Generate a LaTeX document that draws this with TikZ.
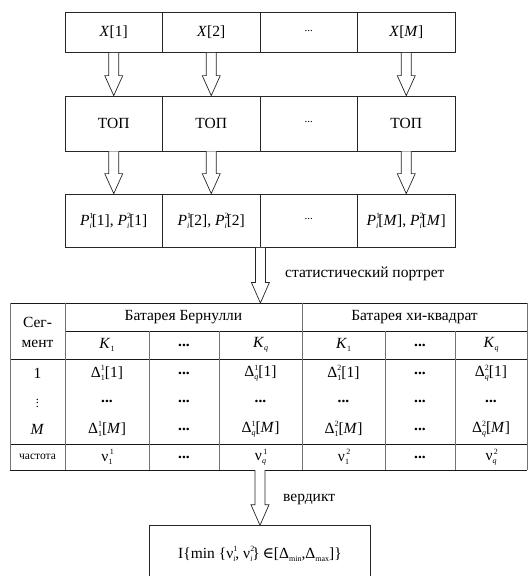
\documentclass[tikz,border=0pt]{standalone}
\usepackage{fontspec}
\setmainfont{Liberation Serif}
\newfontfamily\symfnt{DejaVu Serif}
\usetikzlibrary{calc}
% sub #1, sup #2
\newcommand{\ssb}[2]{{\fontsize{8}{8}\selectfont\makebox[0pt][l]{\raisebox{6.5pt}{#2}}\raisebox{-3pt}{#1}}}
\newcommand{\sbo}[1]{{\fontsize{8}{8}\selectfont\raisebox{-3pt}{#1}}}
\newcommand{\mdots}{\raisebox{3.5pt}{\fontsize{11}{11}\selectfont ...}}
\newcommand{\blkarrow}[3][20]{%
  \draw[blkstyle] let \p1=(#2), \p2=(#3) in
    (\x1-5pt,\y1) -- (\x1-5pt,\y2+#1pt) -- (\x1-9pt,\y2+#1pt) -- (\x1,\y2)
    -- (\x1+9pt,\y2+#1pt) -- (\x1+5pt,\y2+#1pt) -- (\x1+5pt,\y1);}
\tikzset{
  blkstyle/.style={draw=black!85, fill=white, line width=0.7pt, line join=miter},
  cellbox/.style={draw=black!85, line width=0.8pt, minimum width=97.5pt, inner sep=0pt},
  txt/.style={inner sep=0pt, font=\fontsize{15.5}{18}\selectfont},
  hline/.style={draw=black!90, line width=0.8pt},
  vline/.style={draw=black!55, line width=0.9pt},
}
\begin{document}
\begin{tikzpicture}[x=1pt, y=-1pt]
\clip (0,0) rectangle (528,576);
\fill[white] (0,0) rectangle (528,576);
% row 1
\foreach \i/\xc/\t in {1/113.75/{\textit{X}[1]}, 2/211.25/{\textit{X}[2]}, 3/308.75/{\mdots}, 4/406.25/{\textit{X}[\textit{M}]}}{
  \node[cellbox, minimum height=40pt, txt] (x\i) at (\xc,32.5) {\t};
}
\foreach \i/\xc/\t in {1/113.75/{ТОП}, 2/211.25/{ТОП}, 3/308.75/{\mdots}, 4/406.25/{ТОП}}{
  \node[cellbox, minimum height=55pt, txt] (t\i) at (\xc,123.5) {\t};
}
\node[cellbox, minimum height=53.5pt, txt] (p1) at (113.75,220.75) {\textit{P}\ssb{\textit{i}}{1}[1], \textit{P}\ssb{\textit{i}}{2}[1]};
\node[cellbox, minimum height=53.5pt, txt] (p2) at (211.25,220.75) {\textit{P}\ssb{\textit{i}}{1}[2], \textit{P}\ssb{\textit{i}}{2}[2]};
\node[cellbox, minimum height=53.5pt, txt] (p3) at (308.75,220.75) {\mdots};
\node[cellbox, minimum height=53.5pt, txt] (p4) at (406.25,220.75) {\textit{P}\ssb{\textit{i}}{1}[\textit{M}], \textit{P}\ssb{\textit{i}}{2}[\textit{M}]};
% arrows between rows
\blkarrow{x1.south}{t1.north}
\blkarrow{x2.south}{t2.north}
\blkarrow{x4.south}{t4.north}
\blkarrow{t1.south}{p1.north}
\blkarrow{t2.south}{p2.north}
\blkarrow{t4.south}{p4.north}
% table
\coordinate (tabtop) at (260,303);
\coordinate (tabbot) at (260,470);
\draw[hline] (10,303) -- (527,303);
\draw[hline] (65,331) -- (527,331);
\draw[hline] (10,359) -- (527,359);
\draw[hline] (10,444) -- (527,444);
\draw[hline] (10,470) -- (527,470);
\foreach \cx in {10,65,302,527}{ \draw[vline] (\cx,303) -- (\cx,470); }
\foreach \cx in {149,219,385,455}{ \draw[vline] (\cx,331) -- (\cx,470); }
\blkarrow[20.5]{p2.south east}{tabtop}
\node[txt, anchor=west] (lstat) at (285,274) {статистический портрет};
% table texts
\node[txt, align=center, font=\fontsize{15.5}{20}\selectfont] (hseg) at (37.5,332) {Сег-\\мент};
\node[txt] (hber) at (183.5,317) {Батарея Бернулли};
\node[txt] (hchi) at (414.5,317) {Батарея хи-квадрат};
\node[txt] (k11) at (107,345) {\textit{K}\sbo{1}};
\node[txt] (k12) at (184,345) {\textbf{...}};
\node[txt] (k13) at (260.5,345) {\textit{K}\sbo{\textit{q}}};
\node[txt] (k21) at (343.5,345) {\textit{K}\sbo{1}};
\node[txt] (k22) at (420,345) {\textbf{...}};
\node[txt] (k23) at (491,345) {\textit{K}\sbo{\textit{q}}};
% row 1
\node[txt] (r1s) at (37.5,373) {1};
\node[txt] (r1a) at (107,373) {Δ\ssb{1}{1}[1]};
\node[txt] (r1b) at (184,373) {\textbf{...}};
\node[txt] (r1c) at (260.5,373) {Δ\ssb{\textit{q}}{1}[1]};
\node[txt] (r1d) at (343.5,373) {Δ\ssb{1}{2}[1]};
\node[txt] (r1e) at (420,373) {\textbf{...}};
\node[txt] (r1f) at (491,373) {Δ\ssb{\textit{q}}{2}[1]};
% row dots
\node[txt] (r2s) at (37.5,401) {\scalebox{0.8}{$\vdots$}};
\foreach \cx/\nm in {107/a,184/b,260.5/c,343.5/d,420/e,491/f}{
  \node[txt] (r2\nm) at (\cx,401) {\textbf{...}};
}
% row M
\node[txt] (r3s) at (37.5,429) {\textit{M}};
\node[txt] (r3a) at (107,429) {Δ\ssb{1}{1}[\textit{M}]};
\node[txt] (r3b) at (184,429) {\textbf{...}};
\node[txt] (r3c) at (260.5,429) {Δ\ssb{\textit{q}}{1}[\textit{M}]};
\node[txt] (r3d) at (343.5,429) {Δ\ssb{1}{2}[\textit{M}]};
\node[txt] (r3e) at (420,429) {\textbf{...}};
\node[txt] (r3f) at (491,429) {Δ\ssb{\textit{q}}{2}[\textit{M}]};
% frequency row
\node[txt, font=\fontsize{11.5}{13}\selectfont] (r4s) at (37.5,457) {частота};
\node[txt] (r4a) at (107,457) {ν\ssb{1}{\,1}};
\node[txt] (r4b) at (184,457) {\textbf{...}};
\node[txt] (r4c) at (260.5,457) {ν\ssb{\textit{q}}{\,1}};
\node[txt] (r4d) at (343.5,457) {ν\ssb{1}{\,2}};
\node[txt] (r4e) at (420,457) {\textbf{...}};
\node[txt] (r4f) at (491,457) {ν\ssb{\textit{q}}{\,2}};
% verdict
\node[draw=black!85, line width=0.8pt, minimum width=221.7pt, minimum height=56pt, anchor=north, txt] (res) at (260,525.3)
  {I\{min \{ν\ssb{\textit{i}}{1}, ν\ssb{\textit{i}}{2}\}\,{\symfnt ∈}[Δ\sbo{min},Δ\sbo{max}]\}};
\blkarrow[20.5]{tabbot}{res.north}
\node[txt, anchor=west] (lverd) at (283,499) {вердикт};
\end{tikzpicture}
\end{document}
